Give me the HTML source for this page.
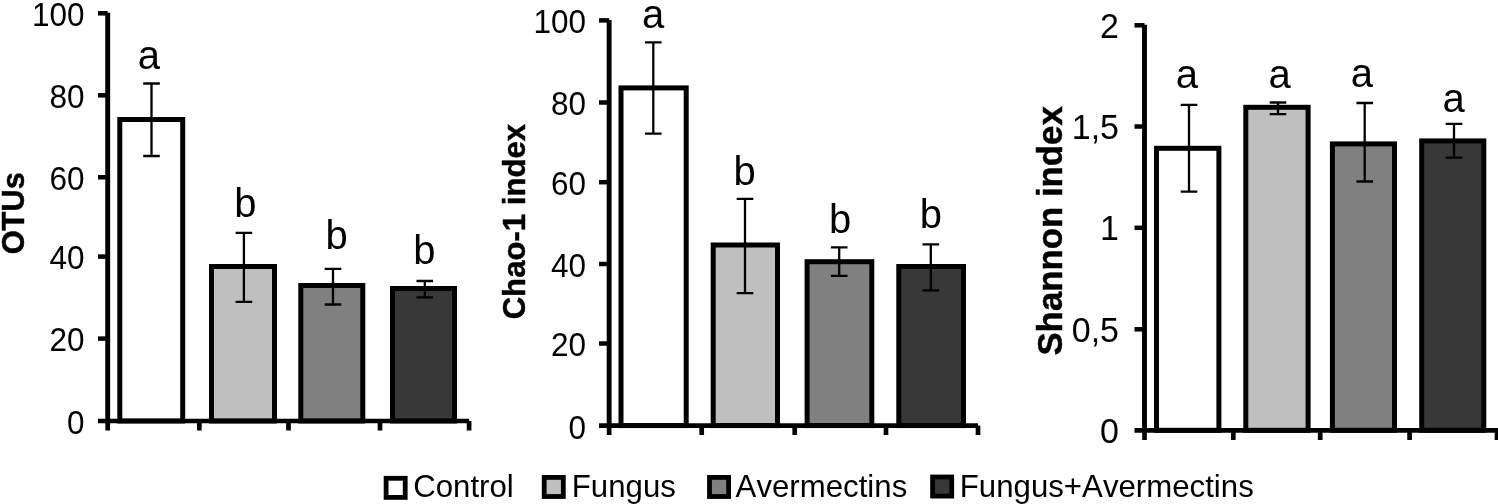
<!DOCTYPE html>
<html lang="en"><head><meta charset="utf-8"><title>Figure</title>
<style>html,body{margin:0;padding:0;background:#fff;}body{width:1498px;height:504px;overflow:hidden;}svg{display:block;}text{font-family:"Liberation Sans",Arial,Helvetica,sans-serif;fill:#000;font-kerning:none;}</style></head><body>
<svg width="1498" height="504" viewBox="0 0 1498 504">
<rect x="0" y="0" width="1498" height="504" fill="#fff"/>
<g><!-- OTUs -->
<rect x="119.80" y="119.50" width="62.90" height="301.50" fill="#ffffff" stroke="#000" stroke-width="5.0"/>
<rect x="211.50" y="266.50" width="63.00" height="154.50" fill="#bfbfbf" stroke="#000" stroke-width="5.0"/>
<rect x="300.80" y="285.50" width="62.00" height="135.50" fill="#808080" stroke="#000" stroke-width="5.0"/>
<rect x="392.50" y="288.50" width="62.00" height="132.50" fill="#383838" stroke="#000" stroke-width="5.0"/>
<path d="M151.50 83.50V156.00M143.20 83.50H159.80M143.20 156.00H159.80" fill="none" stroke="#000" stroke-width="2.3"/>
<path d="M243.90 232.80V301.80M235.60 232.80H252.20M235.60 301.80H252.20" fill="none" stroke="#000" stroke-width="2.3"/>
<path d="M333.00 268.80V304.50M324.70 268.80H341.30M324.70 304.50H341.30" fill="none" stroke="#000" stroke-width="2.3"/>
<path d="M424.80 281.00V297.40M416.50 281.00H433.10M416.50 297.40H433.10" fill="none" stroke="#000" stroke-width="2.3"/>
<path d="M107.70 12.80V423.45" stroke="#000" stroke-width="4.9" fill="none"/>
<path d="M98.00 421.00H469.10" stroke="#000" stroke-width="4.7" fill="none"/>
<text transform="translate(84.50 433.77) scale(1 1.03)" font-size="31.5" text-anchor="end">0</text>
<path d="M98.00 338.60H107.70" stroke="#000" stroke-width="4.5" fill="none"/>
<text transform="translate(84.50 351.37) scale(1 1.03)" font-size="31.5" text-anchor="end">20</text>
<path d="M98.00 256.60H107.70" stroke="#000" stroke-width="4.5" fill="none"/>
<text transform="translate(84.50 269.37) scale(1 1.03)" font-size="31.5" text-anchor="end">40</text>
<path d="M98.00 177.25H107.70" stroke="#000" stroke-width="4.5" fill="none"/>
<text transform="translate(84.50 190.02) scale(1 1.03)" font-size="31.5" text-anchor="end">60</text>
<path d="M98.00 95.30H107.70" stroke="#000" stroke-width="4.5" fill="none"/>
<text transform="translate(84.50 108.07) scale(1 1.03)" font-size="31.5" text-anchor="end">80</text>
<path d="M98.00 13.30H107.70" stroke="#000" stroke-width="4.5" fill="none"/>
<text transform="translate(84.50 26.07) scale(1 1.03)" font-size="31.5" text-anchor="end">100</text>
<path d="M107.70 421.00V430.50" stroke="#000" stroke-width="4.7" fill="none"/>
<path d="M199.30 421.00V430.50" stroke="#000" stroke-width="4.7" fill="none"/>
<path d="M288.50 421.00V430.50" stroke="#000" stroke-width="4.7" fill="none"/>
<path d="M380.00 421.00V430.50" stroke="#000" stroke-width="4.7" fill="none"/>
<path d="M469.10 421.00V430.50" stroke="#000" stroke-width="4.7" fill="none"/>
<text x="148.80" y="68.50" font-size="40" text-anchor="middle">a</text>
<text x="245.30" y="217.20" font-size="40" text-anchor="middle">b</text>
<text x="336.70" y="249.40" font-size="40" text-anchor="middle">b</text>
<text x="424.40" y="264.20" font-size="40" text-anchor="middle">b</text>
<text transform="translate(23.60 213.30) rotate(-90) scale(1 1.04)" font-size="30.8" font-weight="bold" text-anchor="middle" stroke="#000" stroke-width="0.45">OTUs</text>
</g>
<g><!-- Chao-1 index -->
<rect x="621.00" y="87.90" width="65.20" height="337.70" fill="#ffffff" stroke="#000" stroke-width="5.0"/>
<rect x="713.20" y="245.00" width="64.30" height="180.60" fill="#bfbfbf" stroke="#000" stroke-width="5.0"/>
<rect x="807.10" y="261.70" width="64.70" height="163.90" fill="#808080" stroke="#000" stroke-width="5.0"/>
<rect x="898.80" y="266.50" width="64.70" height="159.10" fill="#383838" stroke="#000" stroke-width="5.0"/>
<path d="M653.30 42.30V133.60M645.00 42.30H661.60M645.00 133.60H661.60" fill="none" stroke="#000" stroke-width="2.3"/>
<path d="M745.00 198.80V293.20M736.70 198.80H753.30M736.70 293.20H753.30" fill="none" stroke="#000" stroke-width="2.3"/>
<path d="M839.20 247.30V275.80M830.90 247.30H847.50M830.90 275.80H847.50" fill="none" stroke="#000" stroke-width="2.3"/>
<path d="M930.80 244.30V290.40M922.50 244.30H939.10M922.50 290.40H939.10" fill="none" stroke="#000" stroke-width="2.3"/>
<path d="M609.15 20.00V428.05" stroke="#000" stroke-width="4.9" fill="none"/>
<path d="M599.00 425.60H978.00" stroke="#000" stroke-width="4.7" fill="none"/>
<text transform="translate(586.10 438.57) scale(1 1.03)" font-size="31.5" text-anchor="end">0</text>
<path d="M599.00 343.50H609.15" stroke="#000" stroke-width="4.5" fill="none"/>
<text transform="translate(586.10 356.47) scale(1 1.03)" font-size="31.5" text-anchor="end">20</text>
<path d="M599.00 264.00H609.15" stroke="#000" stroke-width="4.5" fill="none"/>
<text transform="translate(586.10 276.97) scale(1 1.03)" font-size="31.5" text-anchor="end">40</text>
<path d="M599.00 182.20H609.15" stroke="#000" stroke-width="4.5" fill="none"/>
<text transform="translate(586.10 195.17) scale(1 1.03)" font-size="31.5" text-anchor="end">60</text>
<path d="M599.00 102.50H609.15" stroke="#000" stroke-width="4.5" fill="none"/>
<text transform="translate(586.10 115.47) scale(1 1.03)" font-size="31.5" text-anchor="end">80</text>
<path d="M599.00 20.40H609.15" stroke="#000" stroke-width="4.5" fill="none"/>
<text transform="translate(586.10 33.37) scale(1 1.03)" font-size="31.5" text-anchor="end">100</text>
<path d="M609.15 425.60V435.00" stroke="#000" stroke-width="4.7" fill="none"/>
<path d="M701.70 425.60V435.00" stroke="#000" stroke-width="4.7" fill="none"/>
<path d="M794.70 425.60V435.00" stroke="#000" stroke-width="4.7" fill="none"/>
<path d="M886.00 425.60V435.00" stroke="#000" stroke-width="4.7" fill="none"/>
<path d="M978.00 425.60V435.00" stroke="#000" stroke-width="4.7" fill="none"/>
<text x="653.00" y="28.00" font-size="40" text-anchor="middle">a</text>
<text x="744.50" y="185.30" font-size="40" text-anchor="middle">b</text>
<text x="840.00" y="232.60" font-size="40" text-anchor="middle">b</text>
<text x="930.80" y="227.80" font-size="40" text-anchor="middle">b</text>
<text transform="translate(525.10 221.60) rotate(-90) scale(1 1.0)" font-size="31.15" font-weight="bold" text-anchor="middle" stroke="#000" stroke-width="0.45">Chao-1 index</text>
</g>
<g><!-- Shannon index -->
<rect x="1156.50" y="148.30" width="62.40" height="282.00" fill="#ffffff" stroke="#000" stroke-width="5.0"/>
<rect x="1245.80" y="107.30" width="62.30" height="323.00" fill="#bfbfbf" stroke="#000" stroke-width="5.0"/>
<rect x="1332.40" y="143.90" width="62.10" height="286.40" fill="#808080" stroke="#000" stroke-width="5.0"/>
<rect x="1421.70" y="140.90" width="62.10" height="289.40" fill="#383838" stroke="#000" stroke-width="5.0"/>
<path d="M1189.00 104.80V191.60M1180.70 104.80H1197.30M1180.70 191.60H1197.30" fill="none" stroke="#000" stroke-width="2.3"/>
<path d="M1278.00 102.50V114.20M1269.70 102.50H1286.30M1269.70 114.20H1286.30" fill="none" stroke="#000" stroke-width="2.3"/>
<path d="M1364.70 103.00V181.50M1356.40 103.00H1373.00M1356.40 181.50H1373.00" fill="none" stroke="#000" stroke-width="2.3"/>
<path d="M1454.00 123.80V157.70M1445.70 123.80H1462.30M1445.70 157.70H1462.30" fill="none" stroke="#000" stroke-width="2.3"/>
<path d="M1144.50 24.80V432.75" stroke="#000" stroke-width="4.9" fill="none"/>
<path d="M1134.50 430.30H1498.00" stroke="#000" stroke-width="4.7" fill="none"/>
<text transform="translate(1119.00 442.98) scale(1 1.03)" font-size="34" text-anchor="end">0</text>
<path d="M1134.50 329.30H1144.50" stroke="#000" stroke-width="4.5" fill="none"/>
<text transform="translate(1119.00 341.98) scale(1 1.03)" font-size="34" text-anchor="end">0,5</text>
<path d="M1134.50 227.80H1144.50" stroke="#000" stroke-width="4.5" fill="none"/>
<text transform="translate(1119.00 240.48) scale(1 1.03)" font-size="34" text-anchor="end">1</text>
<path d="M1134.50 126.50H1144.50" stroke="#000" stroke-width="4.5" fill="none"/>
<text transform="translate(1119.00 139.18) scale(1 1.03)" font-size="34" text-anchor="end">1,5</text>
<path d="M1134.50 25.30H1144.50" stroke="#000" stroke-width="4.5" fill="none"/>
<text transform="translate(1119.00 37.98) scale(1 1.03)" font-size="34" text-anchor="end">2</text>
<path d="M1144.50 430.30V440.00" stroke="#000" stroke-width="4.7" fill="none"/>
<path d="M1233.30 430.30V440.00" stroke="#000" stroke-width="4.7" fill="none"/>
<path d="M1320.20 430.30V440.00" stroke="#000" stroke-width="4.7" fill="none"/>
<path d="M1409.60 430.30V440.00" stroke="#000" stroke-width="4.7" fill="none"/>
<path d="M1497.00 430.30V440.00" stroke="#000" stroke-width="4.7" fill="none"/>
<text x="1186.90" y="87.60" font-size="40" text-anchor="middle">a</text>
<text x="1279.60" y="87.60" font-size="40" text-anchor="middle">a</text>
<text x="1361.90" y="87.30" font-size="40" text-anchor="middle">a</text>
<text x="1453.60" y="111.60" font-size="40" text-anchor="middle">a</text>
<text transform="translate(1061.90 230.90) rotate(-90) scale(1 1.0)" font-size="34.8" font-weight="bold" text-anchor="middle" stroke="#000" stroke-width="0.45">Shannon index</text>
</g>
<g><!-- legend -->
<rect x="386.10" y="478.30" width="19.10" height="19.10" fill="#ffffff" stroke="#000" stroke-width="4.8"/>
<text transform="translate(413.20 497.20) scale(1 1.035)" font-size="31.2">Control</text>
<rect x="544.20" y="477.40" width="19.10" height="19.10" fill="#bfbfbf" stroke="#000" stroke-width="4.8"/>
<text transform="translate(571.80 497.20) scale(1 1.035)" font-size="31.2">Fungus</text>
<rect x="709.50" y="477.40" width="19.10" height="19.10" fill="#808080" stroke="#000" stroke-width="4.8"/>
<text transform="translate(735.60 497.20) scale(1 1.035)" font-size="31.2">Avermectins</text>
<rect x="932.60" y="477.00" width="19.10" height="19.10" fill="#383838" stroke="#000" stroke-width="4.8"/>
<text transform="translate(959.80 497.20) scale(1 1.035)" font-size="31.2">Fungus+Avermectins</text>
</g>
</svg></body></html>
